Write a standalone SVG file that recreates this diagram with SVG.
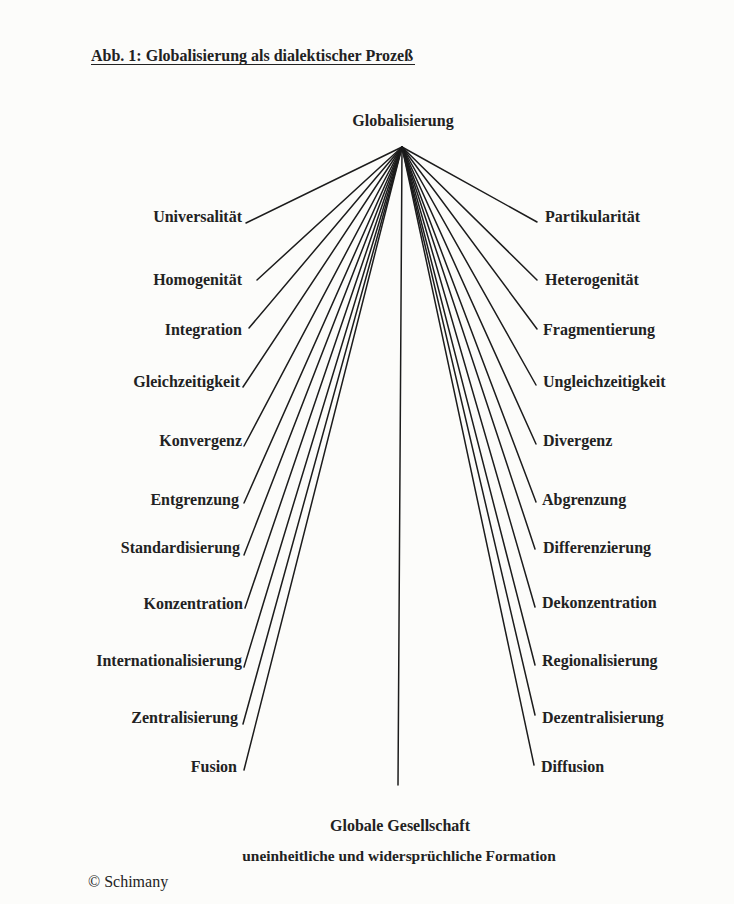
<svg xmlns="http://www.w3.org/2000/svg" width="734" height="904" viewBox="0 0 734 904">
<style>
text{font-family:"Liberation Serif","Times New Roman",serif;font-size:16px;font-weight:bold;fill:#222}
.l{text-anchor:end}
.r{text-anchor:start}
.c{text-anchor:middle}
.reg{font-weight:normal}
.sm{font-size:15.4px}
#connectors line{stroke:#1c1c1c;stroke-width:1.5;stroke-linecap:round}
</style>
<rect width="734" height="904" fill="#fcfcfa"/>
<g id="title">
<text x="91" y="61">Abb. 1: Globalisierung als dialektischer Prozeß</text>
<line x1="91" y1="64.5" x2="415" y2="64.5" stroke="#222" stroke-width="1.2"/>
</g>
<g id="connectors">
<line x1="402" y1="147" x2="246" y2="223"/>
<line x1="402" y1="147" x2="257" y2="280"/>
<line x1="402" y1="147" x2="249" y2="328"/>
<line x1="402" y1="147" x2="243" y2="387"/>
<line x1="402" y1="147" x2="244" y2="446"/>
<line x1="402" y1="147" x2="244" y2="503"/>
<line x1="402" y1="147" x2="244" y2="555"/>
<line x1="402" y1="147" x2="245" y2="608"/>
<line x1="402" y1="147" x2="244" y2="667"/>
<line x1="402" y1="147" x2="243" y2="724"/>
<line x1="402" y1="147" x2="244" y2="770"/>
<line x1="402" y1="147" x2="398" y2="785"/>
<line x1="402" y1="147" x2="537" y2="222"/>
<line x1="402" y1="147" x2="537" y2="280"/>
<line x1="402" y1="147" x2="537" y2="329"/>
<line x1="402" y1="147" x2="536" y2="385"/>
<line x1="402" y1="147" x2="536" y2="444"/>
<line x1="402" y1="147" x2="536" y2="502"/>
<line x1="402" y1="147" x2="535" y2="549"/>
<line x1="402" y1="147" x2="535" y2="607"/>
<line x1="402" y1="147" x2="535" y2="665"/>
<line x1="402" y1="147" x2="535" y2="715"/>
<line x1="402" y1="147" x2="534" y2="765"/>
</g>
<g id="globalisierung"><text class="c" x="403" y="126">Globalisierung</text></g>
<g id="universalitaet"><text class="l" x="242" y="222">Universalität</text></g>
<g id="homogenitaet"><text class="l" x="242" y="285">Homogenität</text></g>
<g id="integration"><text class="l" x="242" y="335">Integration</text></g>
<g id="gleichzeitigkeit"><text class="l" x="240" y="387">Gleichzeitigkeit</text></g>
<g id="konvergenz"><text class="l" x="242" y="446">Konvergenz</text></g>
<g id="entgrenzung"><text class="l" x="239" y="505">Entgrenzung</text></g>
<g id="standardisierung"><text class="l" x="240" y="553">Standardisierung</text></g>
<g id="konzentration"><text class="l" x="243" y="609">Konzentration</text></g>
<g id="internationalisierung"><text class="l" x="242" y="666">Internationalisierung</text></g>
<g id="zentralisierung"><text class="l" x="238" y="723">Zentralisierung</text></g>
<g id="fusion"><text class="l" x="237" y="772">Fusion</text></g>
<g id="partikularitaet"><text class="r" x="545" y="222">Partikularität</text></g>
<g id="heterogenitaet"><text class="r" x="545" y="285">Heterogenität</text></g>
<g id="fragmentierung"><text class="r" x="543" y="335">Fragmentierung</text></g>
<g id="ungleichzeitigkeit"><text class="r" x="543" y="387">Ungleichzeitigkeit</text></g>
<g id="divergenz"><text class="r" x="543" y="446">Divergenz</text></g>
<g id="abgrenzung"><text class="r" x="542" y="505">Abgrenzung</text></g>
<g id="differenzierung"><text class="r" x="543" y="553">Differenzierung</text></g>
<g id="dekonzentration"><text class="r" x="542" y="608">Dekonzentration</text></g>
<g id="regionalisierung"><text class="r" x="542" y="666">Regionalisierung</text></g>
<g id="dezentralisierung"><text class="r" x="542" y="723">Dezentralisierung</text></g>
<g id="diffusion"><text class="r" x="541" y="772">Diffusion</text></g>
<g id="globale-gesellschaft">
<text class="c" x="400" y="831">Globale Gesellschaft</text>
<text class="c sm" x="399" y="861">uneinheitliche und widersprüchliche Formation</text>
</g>
<g id="copyright"><text class="reg" x="88" y="887">© Schimany</text></g>
</svg>
